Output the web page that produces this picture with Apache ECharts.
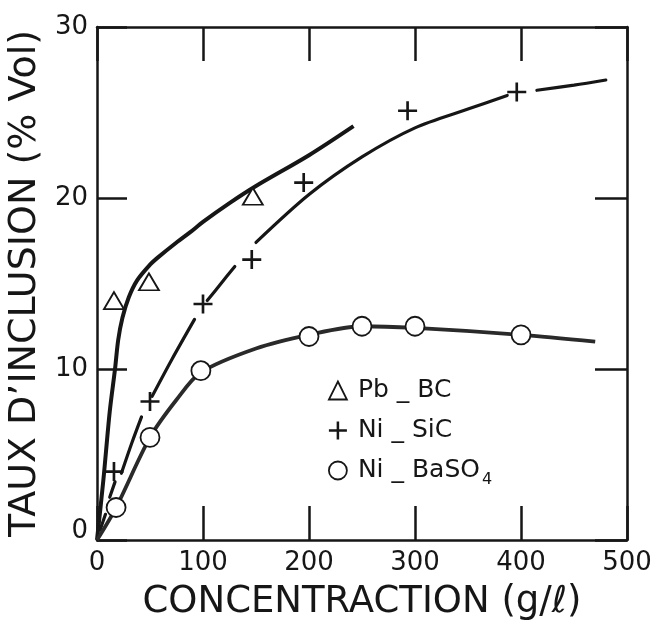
<!DOCTYPE html>
<html><head><meta charset="utf-8">
<script src="https://cdn.jsdelivr.net/npm/echarts@6/dist/echarts.min.js"></script>
<style>html,body{margin:0;padding:0;background:#fff}#c{width:662px;height:629px}</style>
</head><body><div id="c"></div>
<script>
// Measured points
const pbX = [16, 49, 147];
const pbY = [14.0, 15.1, 20.1];
const sicX = [16, 50, 100, 146, 195, 293, 396];
const sicY = [4.0, 8.1, 13.8, 16.4, 20.9, 25.1, 26.2];
const baX = [18, 50, 98, 200, 250, 300, 400];
const baY = [1.9, 6.0, 9.9, 11.9, 12.5, 12.5, 12.0];
// Fitted curves as drawn (null = break in the hand-drawn line)
const pbCurveX = [0, 6, 12, 17, 20, 24, 30, 38, 50, 57, 75, 88, 100, 125, 150, 200, 242];
const pbCurveY = [0, 3.5, 7.5, 10, 11.7, 13.0, 14.2, 15.2, 16.1, 16.5, 17.4, 18.0, 18.6, 19.7, 20.7, 22.5, 24.2];
const sicCurveX = [3, 8, null, 12, 17, null, 23, 33, 42, null, 52, 71, 92, null, 104, 117, 130, null, 150, 200, 250, 300, 350, 387, null, 415, 450, 480];
const sicCurveY = [0.6, 1.5, null, 2.5, 3.4, null, 3.9, 5.7, 7.2, null, 8.4, 10.6, 12.9, null, 14.0, 15.0, 16.0, null, 17.4, 20.2, 22.4, 24.1, 25.2, 26.0, null, 26.3, 26.6, 26.9];
const baCurveX = [0, 18, 50, 75, 98, 150, 200, 250, 300, 400, 470];
const baCurveY = [0, 1.9, 6.0, 8.2, 9.8, 11.2, 12.0, 12.5, 12.4, 12.0, 11.6];
const xTicks = [0, 100, 200, 300, 400, 500];
const yTicks = [0, 10, 20, 30];

const zip = (a, b) => a.map((v, i) => (v == null || b[i] == null) ? '-' : [v, b[i]]);
const ink = '#161616';
const font = 'DejaVu Sans';
const plus = 'path://M4.3,0h1.4v4.3h4.3v1.4h-4.3v4.3h-1.4v-4.3h-4.3v-1.4h4.3z';

const chart = echarts.init(document.getElementById('c'));
const line = {show: true, onZero: false, lineStyle: {color: ink, width: 2.5}};
chart.setOption({
  animation: false,
  backgroundColor: '#fff',
  grid: {left: 97, right: 35, top: 27, bottom: 89, containLabel: false, outerBoundsMode: 'none'},
  xAxis: [
    {type: 'value', min: 0, max: 500, interval: 100, position: 'bottom', axisLine: line, splitLine: {show: false},
      name: 'CONCENTRACTION (g/ℓ)', nameLocation: 'middle', nameGap: 44,
      nameTextStyle: {fontFamily: font, fontSize: 37, color: ink},
      axisTick: {show: true, inside: true, length: 34, lineStyle: {color: ink, width: 2.5}},
      axisLabel: {fontFamily: font, fontSize: 26, color: ink, margin: 10,
        formatter: v => xTicks.includes(v) ? String(v) : ''}},
    {type: 'value', min: 0, max: 500, interval: 100, position: 'top', axisLine: line, splitLine: {show: false},
      axisTick: {show: true, inside: true, length: 34, lineStyle: {color: ink, width: 2.5}},
      axisLabel: {show: false}}
  ],
  yAxis: [
    {type: 'value', min: 0, max: 30, interval: 10, position: 'left', axisLine: line, splitLine: {show: false},
      name: 'TAUX D\u2019INCLUSION (% Vol)', nameLocation: 'middle', nameGap: 50, nameRotate: 90,
      nameTextStyle: {fontFamily: font, fontSize: 38, color: ink},
      axisTick: {show: true, inside: true, length: 30, lineStyle: {color: ink, width: 2.5}},
      axisLabel: {fontFamily: font, fontSize: 26, color: ink, margin: 9,
        rich: {z: {fontFamily: font, fontSize: 26, color: ink, padding: [0, 0, 18, 0]}},
        formatter: v => !yTicks.includes(v) ? '' : (v === 0 ? '{z|0}' : String(v))}},
    {type: 'value', min: 0, max: 30, interval: 10, position: 'right', axisLine: line, splitLine: {show: false},
      axisTick: {show: true, inside: true, length: 32, lineStyle: {color: ink, width: 2.5}},
      axisLabel: {show: false}}
  ],
  legend: {
    left: 323, top: 373, orient: 'vertical', itemGap: 15, itemWidth: 18, itemHeight: 18,
    textStyle: {fontFamily: font, fontSize: 25, color: ink, padding: [0, 0, 0, 6],
      rich: {a: {fontFamily: font, fontSize: 25, color: ink},
             s: {fontFamily: font, fontSize: 16, color: ink, padding: [18, 0, 0, 2]}}},
    formatter: n => n === 'Ni_BaSO4' ? '{a|Ni _ BaSO}{s|4}' : n.replace('_', ' _ '),
    data: [
      {name: 'Pb_BC', icon: 'triangle', itemStyle: {color: '#fff', borderColor: ink, borderWidth: 1.8}},
      {name: 'Ni_SiC', icon: plus, itemStyle: {color: ink, borderWidth: 0}},
      {name: 'Ni_BaSO4', icon: 'circle', itemStyle: {color: '#fff', borderColor: ink, borderWidth: 1.8}}
    ]
  },
  series: [
    {name: 'Pb_BC curve', type: 'line', data: zip(pbCurveX, pbCurveY), smooth: 0.3,
      showSymbol: false, lineStyle: {color: ink, width: 4}, z: 2},
    {name: 'Ni_SiC curve', type: 'line', data: zip(sicCurveX, sicCurveY), smooth: 0.3, connectNulls: false,
      showSymbol: false, lineStyle: {color: ink, width: 3.2, cap: 'round'}, z: 2},
    {name: 'Ni_BaSO4 curve', type: 'line', data: zip(baCurveX, baCurveY), smooth: 0.3,
      showSymbol: false, lineStyle: {color: '#2a2a2a', width: 3.8}, z: 2},
    {name: 'Pb_BC', type: 'scatter', data: zip(pbX, pbY), symbol: 'triangle', symbolSize: [20, 17],
      itemStyle: {color: '#fff', borderColor: ink, borderWidth: 1.8, opacity: 1}, z: 5},
    {name: 'Ni_SiC', type: 'scatter', data: zip(sicX, sicY), symbol: plus, symbolSize: 19,
      itemStyle: {color: ink, opacity: 1}, z: 5},
    {name: 'Ni_BaSO4', type: 'scatter', data: zip(baX, baY), symbol: 'circle', symbolSize: 19,
      itemStyle: {color: '#fff', borderColor: ink, borderWidth: 1.8, opacity: 1}, z: 5}
  ]
});
</script></body></html>
